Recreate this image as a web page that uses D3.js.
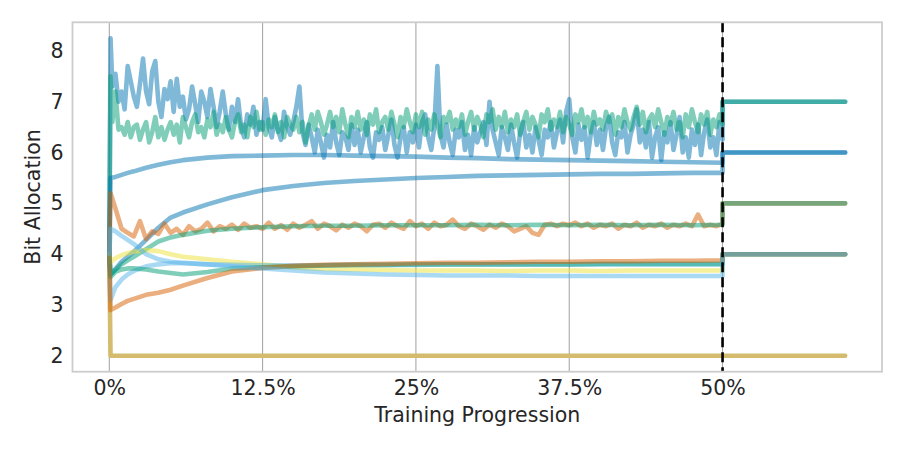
<!DOCTYPE html>
<html>
<head>
<meta charset="utf-8">
<script src="https://cdnjs.cloudflare.com/ajax/libs/d3/7.8.5/d3.min.js"></script>
<style>
	body { margin: 0; background: #fff; }
	text { font-family: "DejaVu Sans", sans-serif; fill: #262626; }
</style>
</head>
<body>
<script>
/********************************************************************************
 *                      BIT ALLOCATION DURING TRAINING                          *
 *******************************************************************************/

// Axis ticks
var x_ticks       = [0, 12.5, 25, 37.5, 50];
var x_tick_labels = ["0%", "12.5%", "25%", "37.5%", "50%"];
var y_ticks       = [2, 3, 4, 5, 6, 7, 8];
var freeze_at     = 50;   // training % where the allocation is fixed
var run_end       = 60;

// Training progress (%) at which each kind of layer was sampled
var dense_steps  = [0, 0.1].concat(d3.range(0.25, 50.01, 0.25));
var noisy_steps  = [0, 0.1].concat(d3.range(0.5, 50.01, 0.5));
var smooth_steps = [0, 0.1, 0.5, 1, 1.5, 2, 3, 4, 5, 6, 8, 10, 12.5, 15, 17.5, 20,
                    22.5, 25, 27.5, 30, 32.5, 35, 37.5, 40, 42.5, 45, 47.5, 50];
var flat_steps   = [0, 0.1, 50];

// Very noisy layers (one value per dense step)
var blue_noisy = [4, 8.25,
	7.3, 7.55, 7.0, 7.2, 6.85, 7.7, 7.4, 7.1, 6.9, 7.35,
	7.85, 7.2, 6.95, 7.6, 7.8, 7.0, 6.7, 7.25, 7.05, 7.4,
	6.8, 7.45, 6.9, 7.1, 6.65, 6.85, 7.3, 6.95, 6.6, 7.2,
	7.0, 6.7, 7.25, 6.9, 6.5, 6.8, 7.2, 6.75, 6.45, 6.9,
	6.6, 7.05, 6.5, 6.3, 6.75, 6.55, 6.9, 6.35, 6.6, 6.45,
	7.05, 6.5, 6.3, 6.7, 6.45, 6.25, 6.8, 6.5, 6.35, 6.6,
	6.9, 7.3, 6.4, 6.15, 6.55, 6.3, 6.0, 6.45, 6.2, 5.9,
	6.35, 6.1, 6.6, 6.2, 5.95, 6.4, 6.3, 6.05, 6.55, 6.15,
	6.45, 6.0, 6.3, 6.6, 6.1, 5.9, 6.4, 6.25, 6.5, 6.05,
	6.35, 6.65, 6.15, 5.9, 6.3, 6.5, 6.0, 6.4, 6.2, 6.55,
	6.1, 6.6, 6.75, 6.3, 6.05, 6.5, 7.7, 6.35, 6.1, 6.55,
	6.2, 5.95, 6.45, 6.3, 6.6, 6.05, 6.35, 5.95, 6.5, 6.2,
	6.4, 6.6, 6.15, 7.0, 6.45, 6.2, 5.95, 6.5, 6.3, 6.05,
	6.55, 6.2, 5.9, 6.4, 6.6, 6.1, 6.35, 6.0, 6.5, 6.25,
	5.95, 6.45, 6.3, 6.6, 6.1, 6.4, 6.65, 6.2, 6.8, 7.05,
	6.3, 6.0, 6.55, 6.25, 6.5, 5.9, 6.35, 6.6, 6.15, 6.45,
	6.05, 6.5, 6.7, 6.2, 5.95, 6.4, 6.3, 6.6, 6.0, 6.35,
	6.55, 6.85, 6.2, 6.45, 6.1, 6.6, 5.9, 6.3, 6.5, 5.85,
	6.4, 6.2, 6.6, 6.05, 6.35, 6.7, 6.0, 6.3, 5.9, 6.45,
	6.15, 6.55, 5.95, 6.4, 6.65, 6.1, 6.3, 5.95, 6.6, 6.25];

var green_noisy = [4, 7.5,
	6.6, 7.2, 6.45, 6.5, 6.35, 6.6, 6.3, 6.5, 6.55, 6.25,
	6.45, 6.6, 6.2, 6.4, 6.7, 6.3, 6.5, 6.25, 6.45, 6.6,
	6.35, 6.55, 6.2, 6.7, 6.5, 6.3, 6.6, 6.75, 6.4, 6.5,
	6.3, 6.65, 6.5, 6.8, 6.35, 6.55, 6.4, 6.7, 6.45, 6.3,
	6.6, 6.75, 6.4, 6.55, 6.3, 6.7, 6.5, 6.8, 6.45, 6.6,
	6.35, 6.65, 6.5, 6.75, 6.4, 6.6, 6.3, 6.7, 6.55, 6.45,
	6.7, 6.4, 6.6, 6.2, 6.5, 6.75, 6.45, 6.8, 6.6, 6.35,
	6.55, 6.8, 6.5, 6.7, 6.4, 6.85, 6.55, 6.3, 6.7, 6.5,
	6.8, 6.45, 6.65, 6.35, 6.75, 6.55, 6.85, 6.4, 6.6, 6.7,
	6.45, 6.8, 6.55, 6.3, 6.7, 6.5, 6.85, 6.6, 6.4, 6.75,
	6.5, 6.8, 6.35, 6.65, 6.45, 6.75, 6.55, 6.3, 6.7, 6.6,
	6.8, 6.45, 6.65, 6.5, 6.75, 6.35, 6.6, 6.8, 6.45, 6.7,
	6.55, 6.3, 6.75, 6.6, 6.85, 6.45, 6.7, 6.5, 6.8, 6.4,
	6.65, 6.5, 6.75, 6.35, 6.6, 6.8, 6.45, 6.7, 6.55, 6.3,
	6.75, 6.6, 6.85, 6.45, 6.65, 6.5, 6.8, 6.4, 6.7, 6.55,
	6.35, 6.75, 6.6, 6.85, 6.5, 6.7, 6.4, 6.8, 6.55, 6.65,
	6.45, 6.8, 6.6, 6.75, 6.35, 6.7, 6.5, 6.85, 6.6, 6.45,
	6.7, 6.9, 6.55, 6.8, 6.4, 6.65, 6.75, 6.5, 6.85, 6.6,
	6.35, 6.7, 6.55, 6.8, 6.45, 6.6, 6.3, 6.75, 6.5, 6.85,
	6.6, 6.4, 6.75, 6.55, 6.8, 6.35, 6.65, 6.5, 6.75, 6.55];

// Mildly noisy layer (one value per noisy step)
var orange_noisy = [4, 5.2,
	4.9, 4.5, 4.42, 4.35, 4.65, 4.3, 4.45, 4.4, 4.6, 4.42,
	4.5, 4.38, 4.55, 4.45, 4.5, 4.62, 4.45, 4.55, 4.5, 4.58,
	4.48, 4.6, 4.52, 4.55, 4.5, 4.62, 4.5, 4.57, 4.48, 4.6,
	4.52, 4.58, 4.65, 4.5, 4.6, 4.55, 4.47, 4.58, 4.52, 4.6,
	4.55, 4.45, 4.58, 4.6, 4.52, 4.62, 4.55, 4.5, 4.65, 4.55,
	4.6, 4.5, 4.62, 4.55, 4.58, 4.68, 4.55, 4.5, 4.6, 4.55,
	4.48, 4.58, 4.52, 4.6, 4.55, 4.45, 4.5, 4.55, 4.42, 4.38,
	4.58, 4.6, 4.55, 4.6, 4.57, 4.62, 4.55, 4.6, 4.52, 4.58,
	4.55, 4.6, 4.5, 4.58, 4.55, 4.62, 4.52, 4.58, 4.55, 4.6,
	4.52, 4.58, 4.55, 4.6, 4.55, 4.78, 4.55, 4.58, 4.55, 4.6];

// Smooth layers (one value per smooth step)
var blue_upper   = [4, 5.5, 5.52, 5.56, 5.6, 5.63, 5.7, 5.76, 5.81, 5.85, 5.9, 5.93, 5.94, 5.95,
                    5.95, 5.94, 5.93, 5.92, 5.9, 5.89, 5.87, 5.86, 5.85, 5.84, 5.83, 5.82, 5.81, 5.8];
var blue_rising  = [4, 3.6, 3.7, 3.85, 3.95, 4.05, 4.28, 4.52, 4.72, 4.82, 4.98, 5.12, 5.26, 5.34,
                    5.4, 5.44, 5.47, 5.5, 5.52, 5.54, 5.55, 5.56, 5.57, 5.58, 5.58, 5.59, 5.6, 5.6];
var green_mid    = [4, 3.6, 3.7, 3.8, 3.88, 3.95, 4.1, 4.25, 4.33, 4.38, 4.46, 4.5, 4.53, 4.55,
                    4.56, 4.56, 4.57, 4.57, 4.57, 4.58, 4.57, 4.58, 4.57, 4.58, 4.57, 4.58, 4.57, 4.58];
var orange_low   = [4, 2.9, 2.95, 3.02, 3.08, 3.12, 3.2, 3.24, 3.3, 3.38, 3.53, 3.66, 3.73, 3.77,
                    3.79, 3.8, 3.81, 3.82, 3.83, 3.83, 3.84, 3.85, 3.85, 3.86, 3.86, 3.87, 3.87, 3.88];
var yellow_low   = [4, 3.85, 3.92, 3.98, 4.02, 4.05, 4.08, 4.06, 4.0, 3.95, 3.9, 3.85, 3.8, 3.74,
                    3.71, 3.7, 3.69, 3.68, 3.68, 3.68, 3.67, 3.68, 3.68, 3.67, 3.68, 3.68, 3.68, 3.68];
var sky_falling  = [4, 4.5, 4.45, 4.36, 4.28, 4.2, 4.0, 3.9, 3.85, 3.83, 3.8, 3.76, 3.72, 3.68,
                    3.64, 3.62, 3.6, 3.59, 3.58, 3.58, 3.58, 3.57, 3.57, 3.57, 3.57, 3.57, 3.57, 3.57];
var sky_rising   = [4, 3.1, 3.35, 3.5, 3.6, 3.67, 3.76, 3.8, 3.82, 3.82, 3.8, 3.79, 3.78, 3.78,
                    3.78, 3.79, 3.79, 3.79, 3.8, 3.8, 3.8, 3.8, 3.8, 3.8, 3.8, 3.8, 3.8, 3.8];
var green_low    = [4, 3.55, 3.65, 3.7, 3.72, 3.72, 3.7, 3.66, 3.63, 3.6, 3.65, 3.72, 3.74, 3.76,
                    3.78, 3.79, 3.79, 3.8, 3.8, 3.8, 3.8, 3.8, 3.8, 3.81, 3.81, 3.81, 3.81, 3.81];

// Layers stuck at the minimum
var min_layers   = [4, 2, 2];

// Layers in drawing order (later ones end up on top)
var layer_values = [min_layers, blue_noisy, green_noisy, blue_upper, blue_rising, orange_noisy,
                    green_mid, yellow_low, sky_rising, green_low, orange_low, sky_falling];
var layer_steps  = [flat_steps, dense_steps, dense_steps, smooth_steps, smooth_steps, noisy_steps,
                    smooth_steps, smooth_steps, smooth_steps, smooth_steps, smooth_steps, smooth_steps];
// Bits each layer ends up with once frozen
var final_bits   = [2, 7, 7, 6, 6, 5, 5, 4, 4, 4, 4, 4];
var layer_colors = ["#d4bb6e", "#0173b2", "#029e73", "#0173b2", "#0173b2", "#d55e00",
                    "#029e73", "#ece133", "#56b4e9", "#029e73", "#d55e00", "#56b4e9"];
var layer_alpha  = [1, 0.5, 0.5, 0.5, 0.5, 0.5, 0.5, 0.5, 0.5, 0.5, 0.5, 0.5];

/********************************************************************************
 *                               DRAWING                                        *
 *******************************************************************************/
var width  = 904;
var height = 452;
var plot   = {left: 72.5, right: 882, top: 22.3, bottom: 371.7};

var svg = d3.select("body").append("svg")
	.attr("width", width)
	.attr("height", height)
	.style("background", "#fff");

var x = d3.scaleLinear().domain([-3, 63]).range([plot.left, plot.right]);
var y = d3.scaleLinear().domain([1.6875, 8.5625]).range([plot.bottom, plot.top]);

// Vertical grid lines
svg.append("g")
	.selectAll("line")
	.data(x_ticks)
	.enter()
	.append("line")
	.attr("x1", function (d) { return x(d); })
	.attr("x2", function (d) { return x(d); })
	.attr("y1", plot.top)
	.attr("y2", plot.bottom)
	.attr("stroke", "#a0a0a0")
	.attr("stroke-width", 1);

// Turn a layer into [progress, bits] pairs, holding the final bits after the freeze
function layer_points(i) {
	var pts = [];
	for (var k = 0; k < layer_steps[i].length; k++) {
		pts.push([layer_steps[i][k], layer_values[i][k]]);
	}
	pts.push([freeze_at, final_bits[i]]);
	pts.push([run_end, final_bits[i]]);
	return pts;
}

var line = d3.line()
	.x(function (d) { return x(d[0]); })
	.y(function (d) { return y(d[1]); });

svg.append("g")
	.selectAll("path")
	.data(layer_values.map(function (v, i) { return i; }))
	.enter()
	.append("path")
	.attr("d", function (i) { return line(layer_points(i)); })
	.attr("fill", "none")
	.attr("stroke", function (i) { return layer_colors[i]; })
	.attr("stroke-opacity", function (i) { return layer_alpha[i]; })
	.attr("stroke-width", 4.6)
	.attr("stroke-linecap", "round")
	.attr("stroke-linejoin", "round");

// Freeze marker
svg.append("line")
	.attr("x1", x(freeze_at))
	.attr("x2", x(freeze_at))
	.attr("y1", plot.top)
	.attr("y2", plot.bottom)
	.attr("stroke", "#000")
	.attr("stroke-width", 2.6)
	.attr("stroke-dasharray", "10,5");

// Frame
svg.append("rect")
	.attr("x", plot.left)
	.attr("y", plot.top)
	.attr("width", plot.right - plot.left)
	.attr("height", plot.bottom - plot.top)
	.attr("fill", "none")
	.attr("stroke", "#cccccc")
	.attr("stroke-width", 1.8);

// Axes (labels only, no tick marks)
var x_axis = svg.append("g")
	.attr("transform", "translate(0," + plot.bottom + ")")
	.call(d3.axisBottom(x)
		.tickValues(x_ticks)
		.tickFormat(function (d, i) { return x_tick_labels[i]; })
		.tickSize(0)
		.tickPadding(9));
x_axis.select(".domain").remove();
x_axis.selectAll("text")
	.attr("font-size", "20.5px")
	.attr("font-family", "DejaVu Sans")
	.attr("fill", "#262626");

var y_axis = svg.append("g")
	.attr("transform", "translate(" + plot.left + ",0)")
	.call(d3.axisLeft(y)
		.tickValues(y_ticks)
		.tickFormat(d3.format("d"))
		.tickSize(0)
		.tickPadding(9));
y_axis.select(".domain").remove();
y_axis.selectAll("text")
	.attr("font-size", "20.5px")
	.attr("font-family", "DejaVu Sans")
	.attr("fill", "#262626");

// Axis titles
svg.append("text")
	.attr("x", (plot.left + plot.right) / 2)
	.attr("y", 422)
	.attr("text-anchor", "middle")
	.attr("font-size", "20.5px")
	.text("Training Progression");

svg.append("text")
	.attr("transform", "translate(40," + ((plot.top + plot.bottom) / 2) + ") rotate(-90)")
	.attr("text-anchor", "middle")
	.attr("font-size", "20.5px")
	.text("Bit Allocation");
</script>
</body>
</html>
